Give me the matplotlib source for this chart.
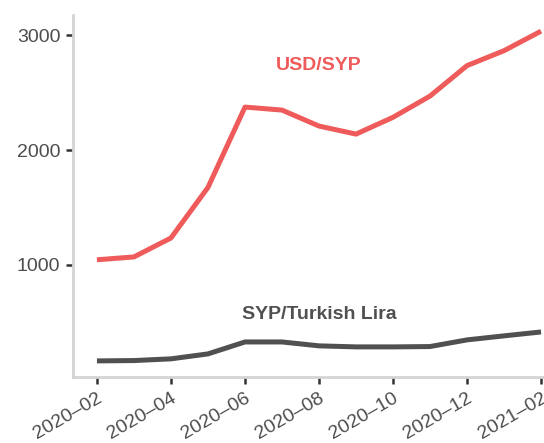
import matplotlib.pyplot as plt

months = ['2020-02', '2020-03', '2020-04', '2020-05', '2020-06', '2020-07', '2020-08',
          '2020-09', '2020-10', '2020-11', '2020-12', '2021-01', '2021-02']
usd_syp = [1045, 1070, 1235, 1675, 2374, 2348, 2209, 2139, 2285, 2470, 2735, 2865, 3035]
syp_try = [165, 168, 183, 226, 330, 330, 296, 287, 287, 290, 348, 383, 417]
tick_labels = ['2020\u201302', '2020\u201304', '2020\u201306', '2020\u201308',
               '2020\u201310', '2020\u201312', '2021\u201302']


def plot_chart():
    fig = plt.figure(figsize=(5.44, 4.43), dpi=100)
    ax = fig.add_axes([0.134, 0.149, 0.866, 0.817])
    x = list(range(len(months)))
    ax.plot(x, usd_syp, color='#ef5a5a', lw=3.6, solid_capstyle='butt')
    ax.plot(x, syp_try, color='#505050', lw=3.6, solid_capstyle='butt')

    fam = ['Liberation Sans', 'DejaVu Sans']
    ax.text(6, 2740, 'USD/SYP', color='#ef5a5a', fontsize=14, fontweight='bold',
            family=fam, ha='center', va='center')
    ax.text(6, 565, 'SYP/Turkish Lira', color='#505050', fontsize=14, fontweight='bold',
            family=fam, ha='center', va='center')

    ax.set_xlim(-0.65, 12.08)
    ax.set_ylim(25, 3175)
    ax.set_yticks([1000, 2000, 3000])
    ax.set_xticks(range(0, 13, 2))
    ax.set_xticklabels(tick_labels, rotation=30, ha='right', rotation_mode='anchor')
    for s in ['top', 'right']:
        ax.spines[s].set_visible(False)
    for s in ['left', 'bottom']:
        ax.spines[s].set_color('#d4d4d4')
        ax.spines[s].set_linewidth(2)
    ax.tick_params(axis='both', length=5, width=1.8, color='#333333',
                   labelsize=14, labelcolor='#4d4d4d', pad=4)
    for lab in ax.get_xticklabels() + ax.get_yticklabels():
        lab.set_family(fam)
    fig.savefig('out.png', dpi=100)


if __name__ == "__main__":
    plot_chart()
